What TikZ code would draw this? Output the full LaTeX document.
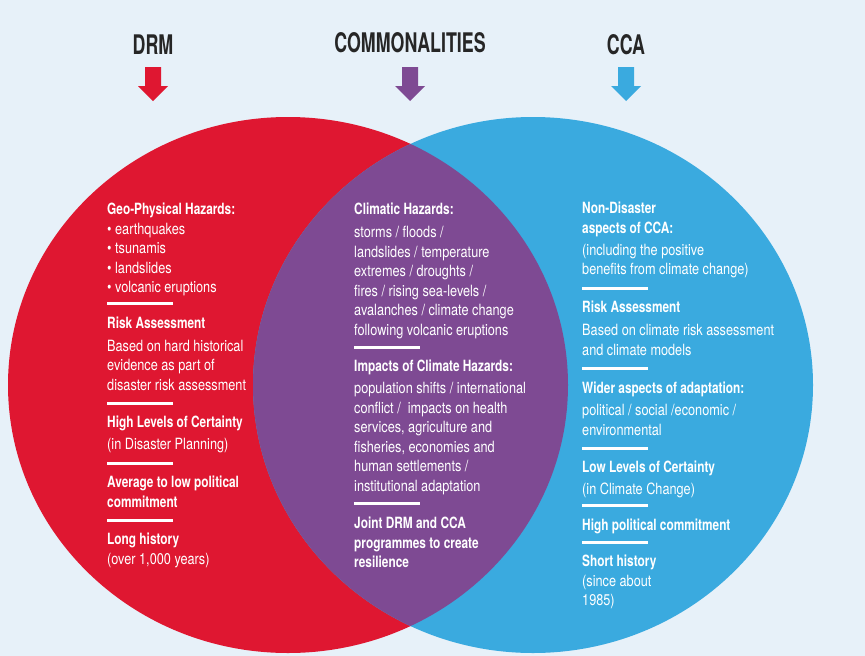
\documentclass[tikz,border=0pt]{standalone}
\usepackage{fontspec}
\setmainfont{TeX Gyre Heros}[FakeStretch=0.82, BoldFeatures={FakeStretch=0.765}]
\newfontfamily\headfont{TeX Gyre Heros}[FakeStretch=0.66]
\usetikzlibrary{positioning}

\definecolor{bgblue}{HTML}{E7F1F9}
\definecolor{drmred}{HTML}{DF1731}
\definecolor{compurple}{HTML}{7E4A93}
\definecolor{ccablue}{HTML}{3AAADF}
\definecolor{headgrey}{HTML}{262626}

\newcommand{\hd}[1]{{\bfseries #1}}

\tikzset{
	txt/.style={anchor=north west, align=left, inner sep=0pt, text=white, yshift=11pt,
		font=\fontsize{15.5}{19.5}\selectfont, execute at begin node=\strut},
	title/.style={inner sep=0pt, text=headgrey, font=\headfont\bfseries\fontsize{27}{27}\selectfont},
	bar/.style={white, line width=3pt},
	set/.style={x radius=280, y radius=268},
}

\begin{document}
\begin{tikzpicture}[x=1pt, y=-1pt]
	\fill[bgblue] (0,0) rectangle (865,656);
	\useasboundingbox (0,0) rectangle (865,656);

	% the two sets and their overlap
	\fill[drmred] (288,385) ellipse[set];
	\fill[ccablue] (533,385) ellipse[set];
	\begin{scope}
		\clip (288,385) ellipse[set];
		\fill[compurple] (533,385) ellipse[set];
	\end{scope}

	% titles and arrows
	\node[title] (drm) at (153,45) {DRM};
	\node[title] (common) at (410,43) {COMMONALITIES};
	\node[title] (cca) at (626,45) {CCA};
	\foreach \x/\c in {153/drmred, 410/compurple, 626/ccablue}{
		\fill[\c] (\x-8,67) -- (\x+8,67) -- (\x+8,86) -- (\x+15,86) -- (\x,101)
			-- (\x-15,86) -- (\x-8,86) -- cycle;
	}

	% DRM
	\node[txt] (geo) at (107,214) {\hd{Geo-Physical Hazards:}\\ • earthquakes\\ • tsunamis\\
		• landslides\\ • volcanic eruptions};
	\draw[bar] (107,303) -- (173,303);
	\node[txt] (riskl) at (107,328) {\hd{Risk Assessment}\\[3pt] Based on hard historical\\
		evidence as part of\\ disaster risk assessment};
	\draw[bar] (107,403) -- (173,403);
	\node[txt] (highcert) at (107,427) {\hd{High Levels of Certainty}\\[2.5pt] (in Disaster Planning)};
	\draw[bar] (107,463) -- (173,463);
	\node[txt] (avgpol) at (107,487) {\hd{Average to low political}\\ \hd{commitment}};
	\draw[bar] (107,520) -- (173,520);
	\node[txt] (longhist) at (107,544) {\hd{Long history}\\ (over 1,000 years)};

	% commonalities
	\node[txt] (climhaz) at (354,214) {\hd{Climatic Hazards:}\\[3.5pt] storms / floods /\\
		landslides / temperature\\ extremes / droughts /\\ fires / rising sea-levels /\\
		avalanches / climate change\\ following volcanic eruptions};
	\draw[bar] (354,347) -- (420,347);
	\node[txt] (impacts) at (354,371) {\hd{Impacts of Climate Hazards:}\\[2.5pt]
		population shifts / international\\ conflict /\ \ impacts on health\\
		services, agriculture and\\ fisheries, economies and\\ human settlements /\\
		institutional adaptation};
	\draw[bar] (354,503) -- (420,503);
	\node[txt] (joint) at (354,528) {\hd{Joint DRM and CCA}\\ \hd{programmes to create}\\ \hd{resilience}};

	% CCA
	\node[txt] (nondis) at (582,213) {\hd{Non-Disaster}\\ \hd{aspects of CCA:}\\[2.5pt]
		(including the positive\\ benefits from climate change)};
	\draw[bar] (582,288) -- (648,288);
	\node[txt] (riskr) at (582,312) {\hd{Risk Assessment}\\[3.5pt] Based on climate risk assessment\\
		and climate models};
	\draw[bar] (582,368) -- (648,368);
	\node[txt] (wider) at (582,393) {\hd{Wider aspects of adaptation:}\\[2.5pt]
		political / social /economic /\\ environmental};
	\draw[bar] (582,448) -- (648,448);
	\node[txt] (lowcert) at (582,472) {\hd{Low Levels of Certainty}\\[2pt] (in Climate Change)};
	\draw[bar] (582,505) -- (648,505);
	\node[txt] (highpol) at (582,528) {\hd{High political commitment}};
	\draw[bar] (582,542) -- (648,542);
	\node[txt] (shorthist) at (582,566) {\hd{Short history}\\ (since about\\ 1985)};
\end{tikzpicture}
\end{document}
